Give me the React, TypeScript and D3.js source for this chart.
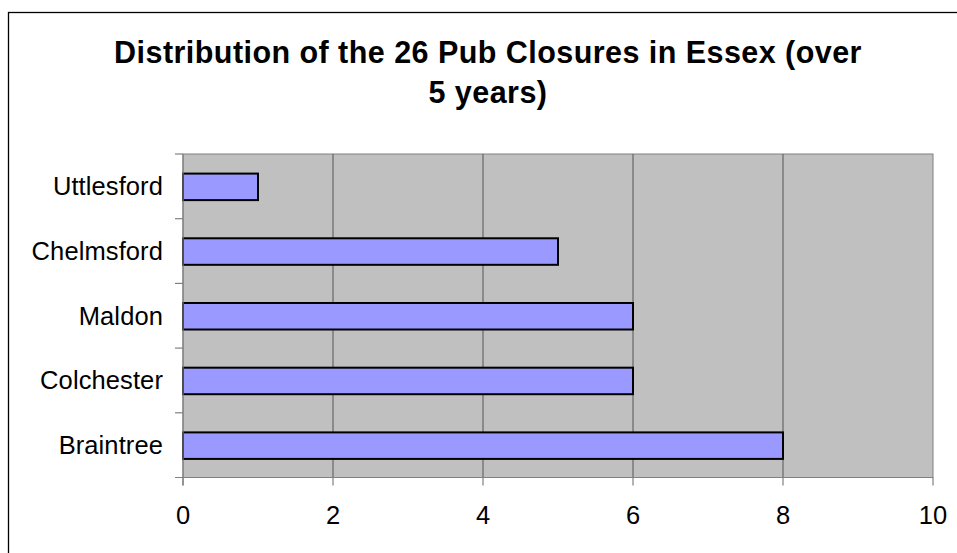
import React from "react";
import * as d3 from "d3";

const categories = ["Uttlesford", "Chelmsford", "Maldon", "Colchester", "Braintree"];
const values = [1, 5, 6, 6, 8];
const xTicks = [0, 2, 4, 6, 8, 10];
const titleLines = ["Distribution of the 26 Pub Closures in Essex (over", "5 years)"];

const W = 957;
const H = 553;
const plot = { left: 183, right: 933, top: 154, bottom: 477.5 };

export default function App() {
  const x = d3.scaleLinear().domain([0, 10]).range([plot.left, plot.right]);
  const y = d3
    .scaleBand<string>()
    .domain(categories)
    .range([plot.top, plot.bottom])
    .paddingInner(0)
    .paddingOuter(0);
  const bw = y.bandwidth();
  const barH = bw * 0.41;
  const font = "'Liberation Sans', Arial, sans-serif";
  const axisColor = "#808080";
  const gridColor = "#555555";

  return (
    <svg
      width={W}
      height={H}
      style={{ position: "absolute", left: 0, top: 0, background: "#fff" }}
    >
      <rect x={8.5} y={12.5} width={W + 20} height={H + 20} fill="#fff" stroke="#000" strokeWidth={1.3} />
      {titleLines.map((t, i) => (
        <text
          key={i}
          x={488}
          y={62.5 + i * 40.5}
          textAnchor="middle"
          fontFamily={font}
          fontWeight="bold"
          fontSize={30.5}
          letterSpacing={0.45}
          fill="#000"
        >
          {t}
        </text>
      ))}
      <rect
        x={plot.left}
        y={plot.top}
        width={plot.right - plot.left}
        height={plot.bottom - plot.top}
        fill="#C0C0C0"
        stroke={axisColor}
        strokeWidth={1}
      />
      {xTicks.slice(1, -1).map((t) => (
        <line key={t} x1={x(t)} x2={x(t)} y1={plot.top} y2={plot.bottom} stroke={gridColor} strokeWidth={1} />
      ))}
      {categories.map((c, i) => (
        <rect
          key={c}
          x={x(0)}
          y={(y(c) as number) + bw / 2 - barH / 2 + 0.5}
          width={x(values[i]) - x(0)}
          height={barH}
          fill="#9999FF"
          stroke="#000"
          strokeWidth={2}
        />
      ))}
      <line x1={plot.left} x2={plot.left} y1={plot.top} y2={plot.bottom + 8} stroke={axisColor} strokeWidth={1.2} />
      <line x1={plot.left - 8} x2={plot.right} y1={plot.bottom} y2={plot.bottom} stroke={axisColor} strokeWidth={1.2} />
      {categories.map((c) => (
        <line
          key={"t" + c}
          x1={plot.left - 8}
          x2={plot.left}
          y1={y(c) as number}
          y2={y(c) as number}
          stroke={axisColor}
          strokeWidth={1.2}
        />
      ))}
      {xTicks.map((t) => (
        <line key={"xt" + t} x1={x(t)} x2={x(t)} y1={plot.bottom} y2={plot.bottom + 8} stroke={axisColor} strokeWidth={1.2} />
      ))}
      {categories.map((c) => (
        <text
          key={"l" + c}
          x={163}
          y={(y(c) as number) + bw / 2 + 9}
          textAnchor="end"
          fontFamily={font}
          fontSize={25.5}
          letterSpacing={0.1}
          fill="#000"
        >
          {c}
        </text>
      ))}
      {xTicks.map((t) => (
        <text
          key={"xl" + t}
          x={x(t)}
          y={523.5}
          textAnchor="middle"
          fontFamily={font}
          fontSize={25.5}
          fill="#000"
        >
          {t}
        </text>
      ))}
    </svg>
  );
}
